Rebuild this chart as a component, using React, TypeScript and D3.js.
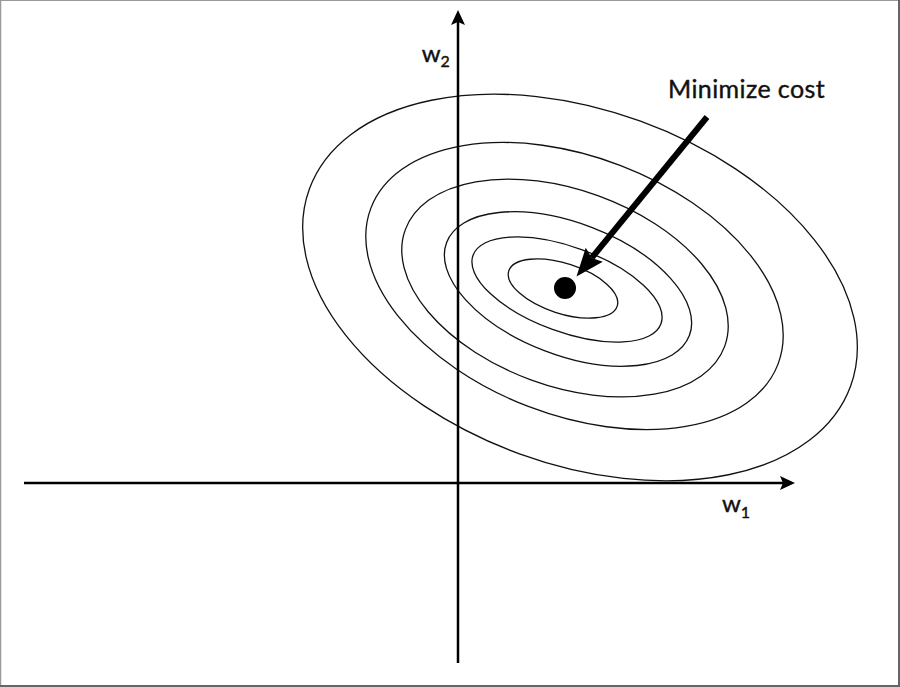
import React from "react";
import * as d3 from "d3";

// weight space (w1, w2), 1 unit = 100px on screen
const w1Domain = [-4.34, 3.37];
const w2Domain = [-1.8, 4.73];

// cost contours, outer to inner
const contourCx = [1.22, 1.165, 1.07, 1.1, 1.09, 1.05];
const contourCy = [1.955, 1.97, 1.95, 1.94, 1.935, 1.945];
const contourRx = [2.88, 2.18, 1.7, 1.3, 1.0, 0.57];
const contourRy = [1.77, 1.29, 0.98, 0.66, 0.425, 0.25];
const contourTilt = [-20, -21, -20, -21, -20, -18]; // degrees, in data space

const minimum = [1.07, 1.95];
const arrowFrom = [2.49, 3.66];
const arrowTo = [1.185, 2.065];
const labelText = "Minimize cost";
const labelAt = [2.1, 3.85];
const w1LabelAt = [2.64, -0.287];
const w2LabelAt = [-0.363, 4.213];

const width = 900;
const height = 687;
const font = "Lato, 'Open Sans', sans-serif";

const arrowHead = (tip, from, len, half, notch) => {
  const dx = tip[0] - from[0];
  const dy = tip[1] - from[1];
  const l = Math.hypot(dx, dy);
  const ux = dx / l;
  const uy = dy / l;
  const bx = tip[0] - ux * len;
  const by = tip[1] - uy * len;
  const pts = [
    [tip[0], tip[1]],
    [bx - uy * half, by + ux * half],
    [tip[0] - ux * (len - notch), tip[1] - uy * (len - notch)],
    [bx + uy * half, by - ux * half],
  ];
  return {
    points: pts.map((p) => p.join(",")).join(" "),
    lineEnd: pts[2],
  };
};

const App = () => {
  const x = d3.scaleLinear().domain(w1Domain).range([24, 795]);
  const y = d3.scaleLinear().domain(w2Domain).range([663, 10]);

  // axes
  const xAxisStart = [x(w1Domain[0]), y(0)];
  const xAxisTip = [x(w1Domain[1]), y(0)];
  const yAxisStart = [x(0), y(w2Domain[0])];
  const yAxisTip = [x(0), y(w2Domain[1])];
  const xHead = arrowHead(xAxisTip, xAxisStart, 15, 7, 3);
  const yHead = arrowHead(yAxisTip, yAxisStart, 15, 7, 3);

  // annotation arrow
  const aFrom = [x(arrowFrom[0]), y(arrowFrom[1])];
  const aTo = [x(arrowTo[0]), y(arrowTo[1])];
  const aHead = arrowHead(aTo, aFrom, 28, 11, 4);

  return (
    <svg
      width={width}
      height={height}
      style={{ position: "absolute", left: 0, top: 0, display: "block", background: "#fff" }}
    >
      <rect x={0} y={0} width={width} height={height} fill="#fff" />

      {/* contours */}
      <g fill="none" stroke="#111" strokeWidth={1.3}>
        {contourCx.map((cx, i) => {
          const px = x(cx);
          const py = y(contourCy[i]);
          return (
            <ellipse
              key={i}
              cx={px}
              cy={py}
              rx={x(contourRx[i]) - x(0)}
              ry={y(0) - y(contourRy[i])}
              transform={`rotate(${-contourTilt[i]} ${px} ${py})`}
            />
          );
        })}
      </g>

      {/* axes */}
      <g stroke="#000" strokeWidth={2.5}>
        <line x1={xAxisStart[0]} y1={xAxisStart[1]} x2={xHead.lineEnd[0]} y2={xHead.lineEnd[1]} />
        <line x1={yAxisStart[0]} y1={yAxisStart[1]} x2={yHead.lineEnd[0]} y2={yHead.lineEnd[1]} />
      </g>
      <polygon points={xHead.points} fill="#000" />
      <polygon points={yHead.points} fill="#000" />

      {/* minimum */}
      <circle cx={x(minimum[0])} cy={y(minimum[1])} r={11} fill="#000" />

      {/* annotation */}
      <line
        x1={aFrom[0]}
        y1={aFrom[1]}
        x2={aHead.lineEnd[0]}
        y2={aHead.lineEnd[1]}
        stroke="#000"
        strokeWidth={6}
      />
      <polygon points={aHead.points} fill="#000" />

      <g fontFamily={font} fill="#111" stroke="#111" strokeWidth={0.4}>
        <text x={x(labelAt[0])} y={y(labelAt[1])} fontSize={25} letterSpacing={0.4}>
          {labelText}
        </text>
        <text x={x(w1LabelAt[0])} y={y(w1LabelAt[1])} fontSize={24}>
          w<tspan dy={6} fontSize={16}>1</tspan>
        </text>
        <text x={x(w2LabelAt[0])} y={y(w2LabelAt[1])} fontSize={24}>
          w<tspan dy={5} fontSize={16}>2</tspan>
        </text>
      </g>

      {/* frame */}
      <line x1={0} y1={0.5} x2={width} y2={0.5} stroke="#999" strokeWidth={1} />
      <line x1={0.5} y1={0} x2={0.5} y2={height} stroke="#999" strokeWidth={1.5} />
      <line x1={width - 1} y1={0} x2={width - 1} y2={height} stroke="#666" strokeWidth={2} />
      <line x1={0} y1={height - 1} x2={width} y2={height - 1} stroke="#666" strokeWidth={2} />
    </svg>
  );
};

export default App;
